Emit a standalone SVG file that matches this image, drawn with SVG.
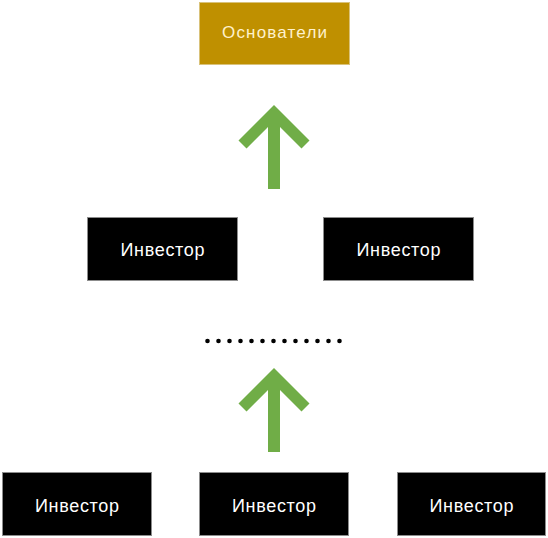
<svg xmlns="http://www.w3.org/2000/svg" width="548" height="538" viewBox="0 0 548 538">
<style>
.inv rect{fill:#000;stroke:#8c8c8c;stroke-width:1}
.inv text{fill:#fff;font-family:"Liberation Sans",Arial,sans-serif;font-size:18px;text-anchor:middle}
.arrow{fill:#70ad47}
.dot{fill:#000}
</style>
<defs>
<polygon id="arr" points="274,368 309.5,403.5 301.5,411.5 280,390 280,452 268,452 268,390 246.5,411.5 238.5,403.5"/>
</defs>
<rect width="548" height="538" fill="#fff"/>
<g id="founders">
<rect x="199.5" y="2.5" width="150" height="62" fill="#bf9000" stroke="#d9c27a" stroke-width="1"/>
<text x="274.5" y="38" fill="#fff2cc" font-family="'Liberation Sans',Arial,sans-serif" font-size="17" text-anchor="middle" textLength="105" lengthAdjust="spacing">Основатели</text>
</g>
<g id="connectors">
<use href="#arr" class="arrow" transform="translate(0,-263)"/>
<use href="#arr" class="arrow"/>
<g id="ellipsis" class="dot">
<circle cx="207.5" cy="341" r="2.3"/><circle cx="218.5" cy="341" r="2.3"/><circle cx="229.5" cy="341" r="2.3"/><circle cx="240.5" cy="341" r="2.3"/><circle cx="251.5" cy="341" r="2.3"/><circle cx="262.5" cy="341" r="2.3"/><circle cx="273.5" cy="341" r="2.3"/><circle cx="284.5" cy="341" r="2.3"/><circle cx="295.5" cy="341" r="2.3"/><circle cx="306.5" cy="341" r="2.3"/><circle cx="317.5" cy="341" r="2.3"/><circle cx="328.5" cy="341" r="2.3"/><circle cx="339.5" cy="341" r="2.3"/>
</g>
</g>
<g id="investor-m1" class="inv"><rect x="87.5" y="217.5" width="150" height="63"/><text x="162.5" y="256" textLength="84" lengthAdjust="spacing">Инвестор</text></g>
<g id="investor-m2" class="inv"><rect x="323.5" y="217.5" width="150" height="63"/><text x="398.5" y="256" textLength="84" lengthAdjust="spacing">Инвестор</text></g>
<g id="investor-b1" class="inv"><rect x="2.5" y="472.5" width="149" height="63"/><text x="77" y="512" textLength="84" lengthAdjust="spacing">Инвестор</text></g>
<g id="investor-b2" class="inv"><rect x="199.5" y="472.5" width="149" height="63"/><text x="274" y="512" textLength="84" lengthAdjust="spacing">Инвестор</text></g>
<g id="investor-b3" class="inv"><rect x="397.5" y="472.5" width="148" height="63"/><text x="471.5" y="512" textLength="84" lengthAdjust="spacing">Инвестор</text></g>
</svg>
